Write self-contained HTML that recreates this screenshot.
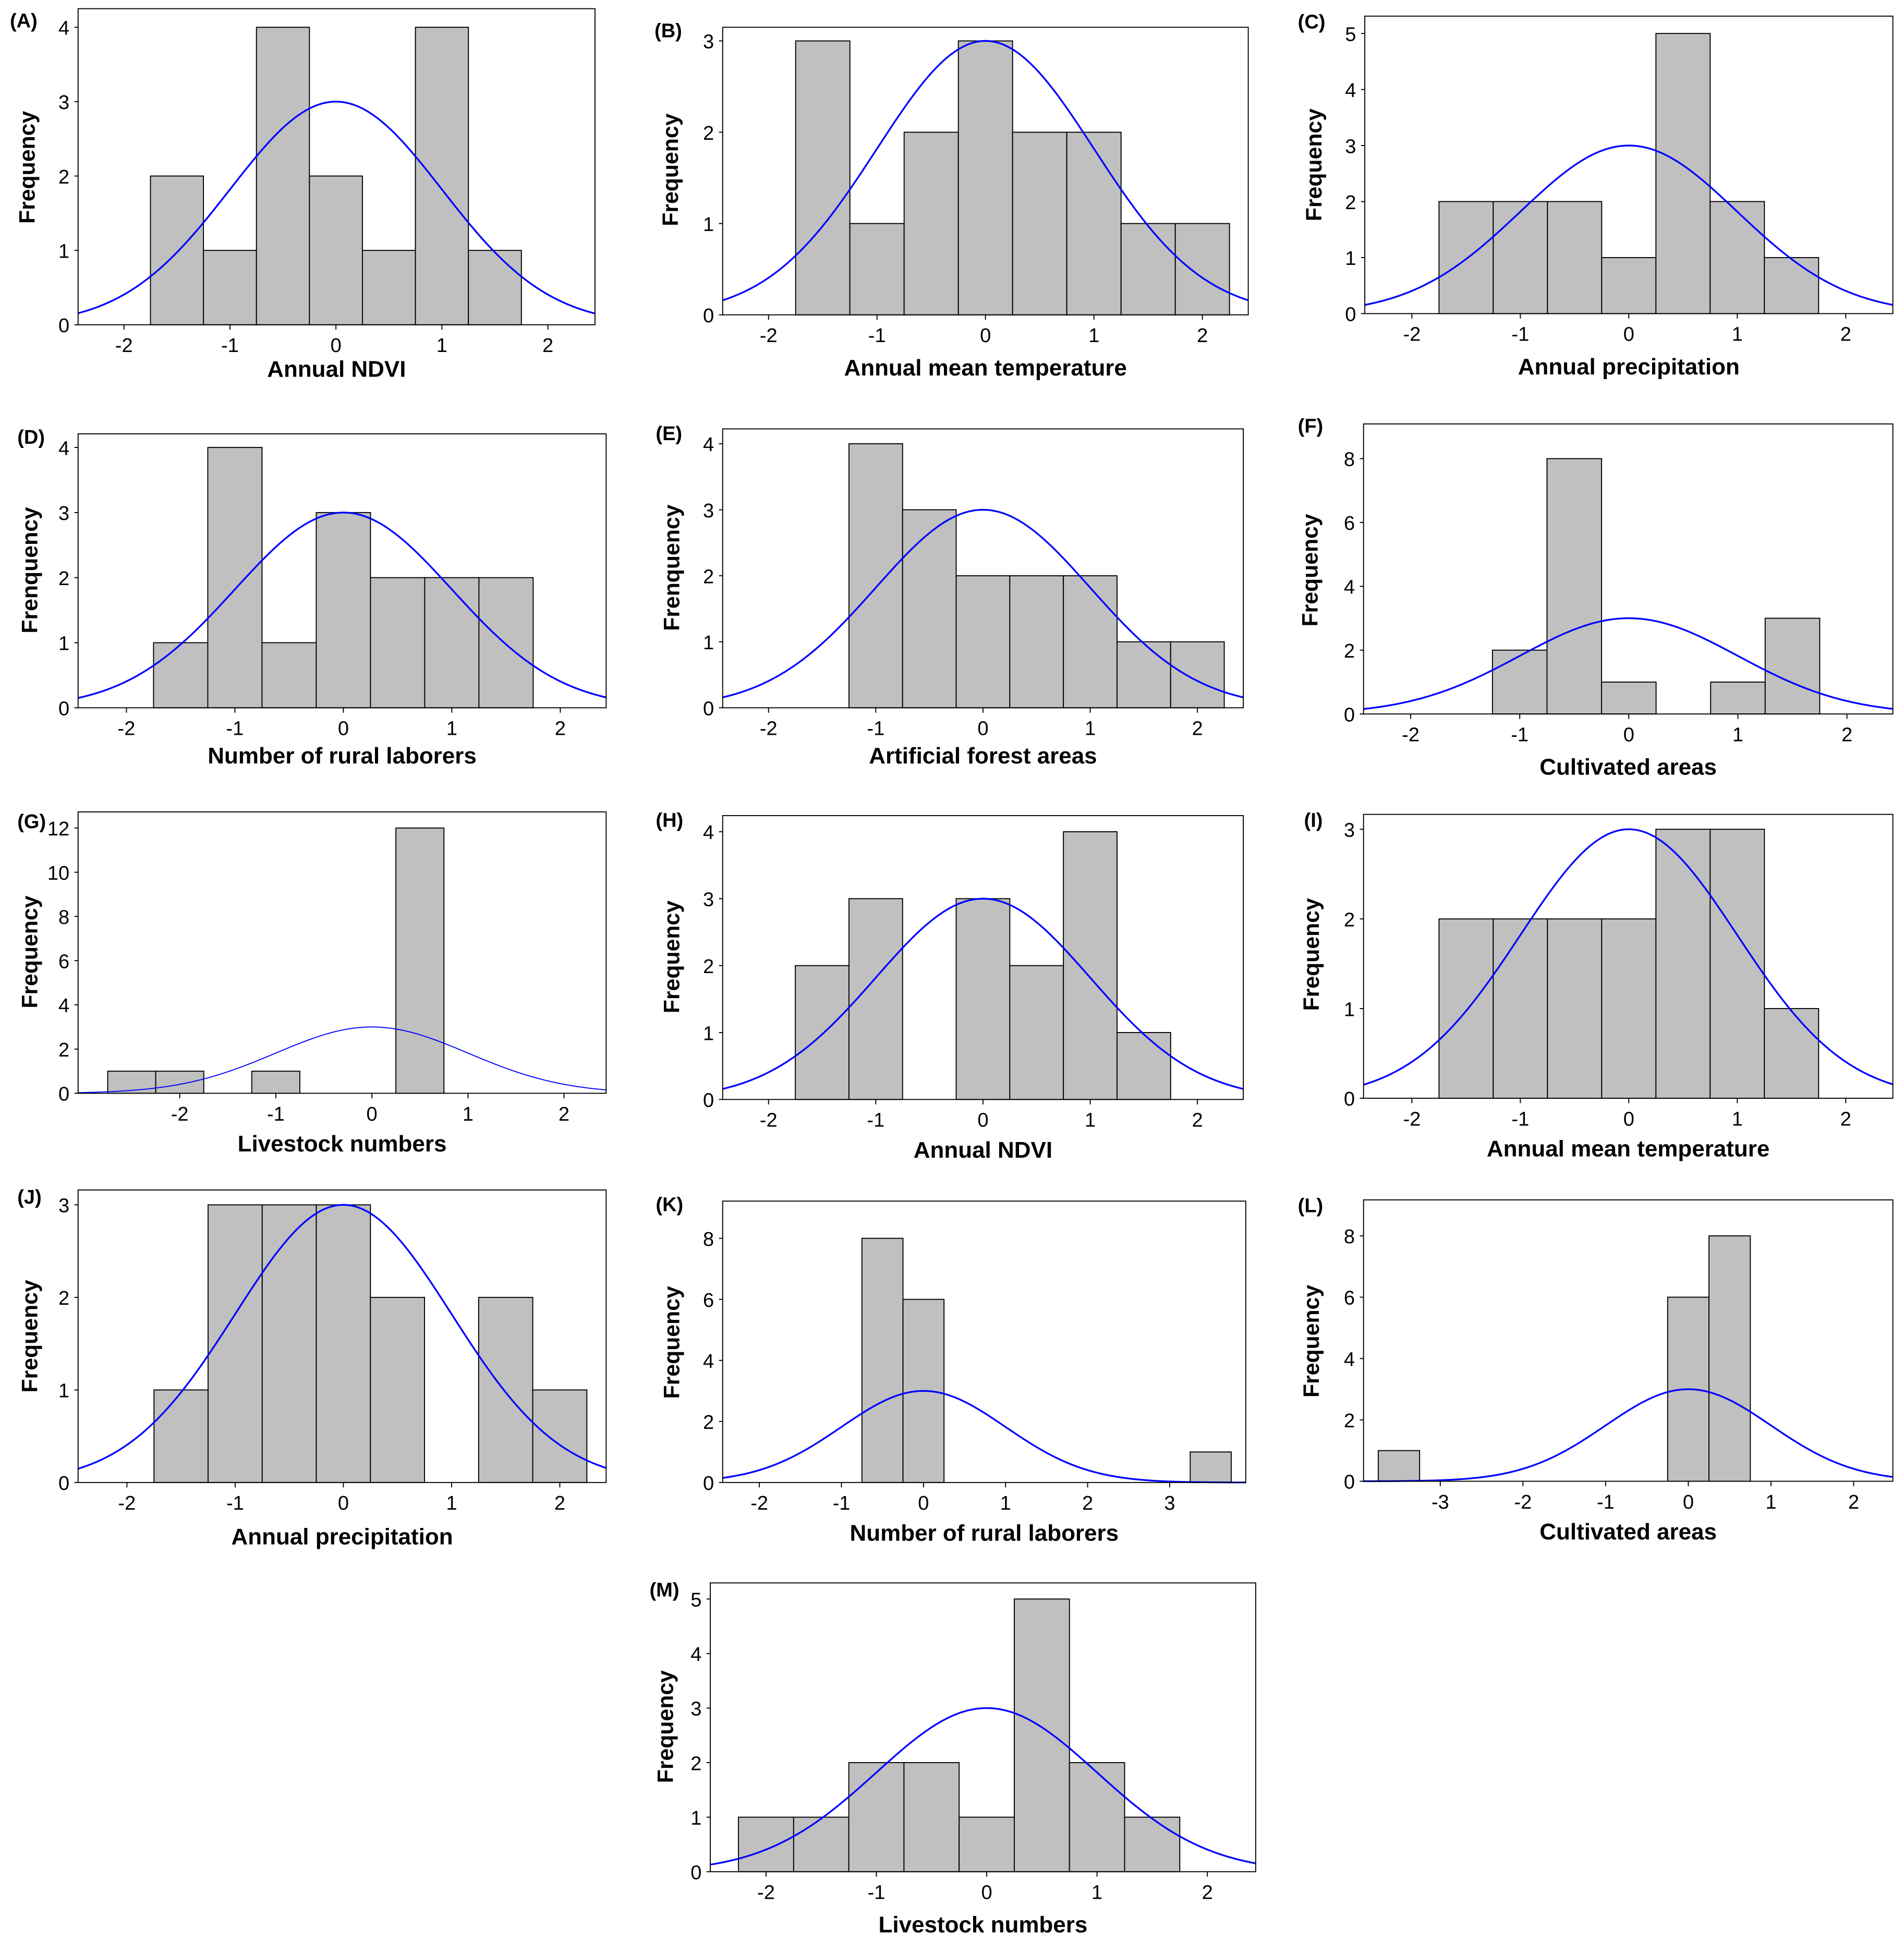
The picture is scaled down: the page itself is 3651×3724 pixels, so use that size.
<!DOCTYPE html>
<html><head><meta charset="utf-8"><style>
html,body{margin:0;padding:0;background:#fff}
svg{display:block}
text{font-family:"Liberation Sans",Arial,sans-serif;fill:#000}
</style></head><body>
<svg id="fig" xmlns="http://www.w3.org/2000/svg" width="3651" height="3724" viewBox="0 0 1536 1566.7"></svg>
<script>
// Data arrays (counts per bin, bin starts, tick labels)
const countsA=[2,1,4,2,1,4,1];
const countsB=[3,1,2,3,2,2,1,1];
const countsC=[2,2,2,1,5,2,1];
const countsD=[1,4,1,3,2,2,2];
const countsE=[4,3,2,2,2,1,1];
const countsF=[2,8,1,0,1,3];
const countsG=[1,1,0,1,0,0,12];
const countsH=[2,3,0,3,2,4,1];
const countsI=[2,2,2,2,3,3,1];
const countsJ=[1,3,3,3,2,0,2,1];
const countsK=[8,6,0,0,0,0,0,0,1];
const countsL=[1,0,0,0,0,0,0,6,8];
const countsM=[1,1,2,2,1,5,2,1];
const binStarts=[-1.75,-1.75,-1.75,-1.75,-1.25,-1.25,-2.75,-1.75,-1.75,-1.75,-0.75,-3.75,-2.25];
const binWidth=0.5;
const curvePeak=3;
const xTicksStd=[-2,-1,0,1,2];
const xTicksK=[-2,-1,0,1,2,3];
const xTicksL=[-3,-2,-1,0,1,2];
const yTicks4=[0,1,2,3,4];
const yTicks3=[0,1,2,3];
const yTicks5=[0,1,2,3,4,5];
const yTicks8=[0,2,4,6,8];
const yTicks12=[0,2,4,6,8,10,12];
const xLabels=["Annual NDVI","Annual mean temperature","Annual precipitation","Number of rural laborers","Artificial forest areas","Cultivated areas","Livestock numbers","Annual NDVI","Annual mean temperature","Annual precipitation","Number of rural laborers","Cultivated areas","Livestock numbers"];
const yLabels=["Frequency","Frequency","Frequency","Frenquency","Frenquency","Frequency","Frequency","Frequency","Frequency","Frequency","Frequency","Frequency","Frequency"];
const letters=["A","B","C","D","E","F","G","H","I","J","K","L","M"];

// Layout (pixel geometry in 1536-wide coordinates)
const layout=[
 {L:63,R:480,T:7,B:262,x0:271,ux:85.5,y1:22,ymax:4,yt:yTicks4,xt:xTicksStd,lx:8,ly:22,yx:22,yc:135,xl:304,c:countsA},
 {L:583,R:1007,T:22,B:254,x0:795,ux:87.5,y1:33,ymax:3,yt:yTicks3,xt:xTicksStd,lx:528,ly:30,yx:541,yc:137,xl:303,c:countsB},
 {L:1101,R:1527,T:13,B:253,x0:1314,ux:87.5,y1:27,ymax:5,yt:yTicks5,xt:xTicksStd,lx:1047,ly:23,yx:1060,yc:133,xl:302,c:countsC},
 {L:63,R:489,T:350,B:571,x0:277,ux:87.5,y1:361,ymax:4,yt:yTicks4,xt:xTicksStd,lx:14,ly:358,yx:24,yc:460,xl:616,c:countsD},
 {L:583,R:1003,T:346,B:571,x0:793,ux:86.5,y1:358,ymax:4,yt:yTicks4,xt:xTicksStd,lx:529,ly:355,yx:542,yc:458,xl:616,c:countsE},
 {L:1100,R:1527,T:342,B:576,x0:1314,ux:88,y1:370,ymax:8,yt:yTicks8,xt:xTicksStd,lx:1047,ly:349,yx:1057,yc:460,xl:625,c:countsF},
 {L:63,R:489,T:655,B:882,x0:300,ux:77.5,y1:668,ymax:12,yt:yTicks12,xt:xTicksStd,lx:14,ly:668,yx:24,yc:768,xl:929,c:countsG,thin:true},
 {L:583,R:1003,T:658,B:887,x0:793,ux:86.5,y1:671,ymax:4,yt:yTicks4,xt:xTicksStd,lx:529,ly:667,yx:542,yc:772,xl:934,c:countsH},
 {L:1100,R:1527,T:657,B:886,x0:1314,ux:87.5,y1:669,ymax:3,yt:yTicks3,xt:xTicksStd,lx:1052,ly:667,yx:1058,yc:770,xl:933,c:countsI},
 {L:63,R:489,T:960,B:1196,x0:277,ux:87.3,y1:972,ymax:3,yt:yTicks3,xt:xTicksStd,lx:14,ly:971,yx:24,yc:1078,xl:1246,c:countsJ},
 {L:583,R:1005,T:969,B:1196,x0:745,ux:66.2,y1:999,ymax:8,yt:yTicks8,xt:xTicksK,lx:529,ly:977,yx:542,yc:1083,xl:1243,c:countsK},
 {L:1100,R:1527,T:968,B:1195,x0:1362,ux:66.7,y1:997,ymax:8,yt:yTicks8,xt:xTicksL,lx:1047,ly:978,yx:1058,yc:1082,xl:1242,c:countsL},
 {L:573,R:1013,T:1277,B:1510,x0:796,ux:89,y1:1290,ymax:5,yt:yTicks5,xt:xTicksStd,lx:524,ly:1288,yx:537,yc:1393,xl:1559,c:countsM}
];
const NS="http://www.w3.org/2000/svg";
const svg=document.getElementById('fig');
function mk(tag,attrs,parent){const e=document.createElementNS(NS,tag);for(const k in attrs)e.setAttribute(k,attrs[k]);(parent||svg).appendChild(e);return e;}

layout.forEach((p,i)=>{
 const g=mk('g',{});
 
 
 const X=v=>p.x0+v*p.ux;
 const Y=v=>p.B-v*(p.B-p.y1)/p.ymax;
 p.c.forEach((n,k)=>{
  if(n<=0)return;
  const a=binStarts[i]+k*binWidth;
  const r=mk('rect',{x:X(a),y:Y(n),width:X(a+binWidth)-X(a),height:Y(0)-Y(n),fill:'#c0c0c0',stroke:'#000','stroke-width':0.8},g);
  
  
 });
 let d='';
 const xa=(p.L-p.x0)/p.ux, xb=(p.R-p.x0)/p.ux;
 for(let s=0;s<=200;s++){const x=xa+(xb-xa)*s/200;const y=curvePeak*Math.exp(-x*x/2);d+=(s?'L':'M')+X(x).toFixed(2)+' '+Y(y).toFixed(2);}
 const c=mk('path',{d:d,fill:'none',stroke:'#0000ff','stroke-width':p.thin?0.8:1.4},g);
 
 
 const f=mk('rect',{x:p.L,y:p.T,width:p.R-p.L,height:p.B-p.T,fill:'none',stroke:'#000','stroke-width':0.8},g);
 
 
 p.yt.forEach(v=>{
  mk('line',{x1:p.L-3,x2:p.L,y1:Y(v),y2:Y(v),stroke:'#000','stroke-width':0.8},g);
  const t=mk('text',{x:p.L-7,y:Y(v)+6,'text-anchor':'end','font-size':16},g);
  t.textContent=v;
  
  
 });
 p.xt.forEach(v=>{
  mk('line',{x1:X(v),x2:X(v),y1:p.B,y2:p.B+4,stroke:'#000','stroke-width':0.8},g);
  const t=mk('text',{x:X(v),y:p.B+22,'text-anchor':'middle','font-size':16},g);
  t.textContent=v;
  
  
 });
 const xl=mk('text',{x:(p.L+p.R)/2,y:p.xl,'text-anchor':'middle','font-size':18.5,'font-weight':'bold'},g);
 xl.textContent=xLabels[i];
 
 
 const yl=mk('text',{x:0,y:0,'text-anchor':'middle','font-size':18,'font-weight':'bold',transform:`translate(${p.yx+6},${p.yc}) rotate(-90)`},g);
 yl.textContent=yLabels[i];
 
 
 const lt=mk('text',{x:p.lx,y:p.ly,'font-size':16,'font-weight':'bold'},g);
 lt.textContent='('+letters[i]+')';
 
 
});
</script>
</body></html>
